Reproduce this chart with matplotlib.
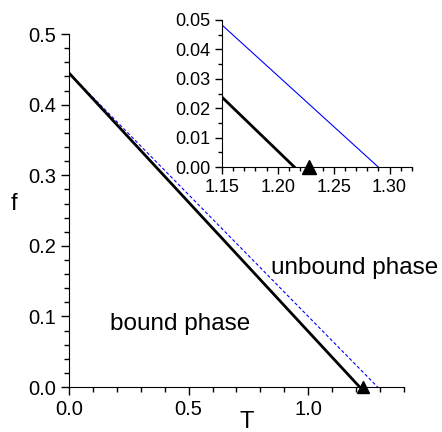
import matplotlib
matplotlib.use('Agg')
import matplotlib.pyplot as plt
from matplotlib.ticker import MultipleLocator

plt.rcParams['font.family'] = ['Liberation Sans', 'DejaVu Sans']

# phase boundary (exact) and approximate boundary
T_exact = [0.0, 1.215]
f_exact = [0.445, 0.0]
T_approx = [0.0, 1.29]
f_approx = [0.445, 0.0]
# critical point marker
T_c = [1.228]
f_c = [0.0]

fig = plt.figure(figsize=(4.42, 4.32), dpi=100)
ax = fig.add_axes([0.156, 0.104, 0.758, 0.817])

ax.plot(T_approx, f_approx, color='blue', lw=0.8, ls=(0, (3, 2)))
ax.plot(T_exact, f_exact, color='black', lw=2)
ax.plot(T_c, f_c, marker='^', color='black', ms=9, ls='none', clip_on=False)

ax.set_xlim(0, 1.40)
ax.set_ylim(0, 0.5)
ax.xaxis.set_major_locator(MultipleLocator(0.5))
ax.xaxis.set_minor_locator(MultipleLocator(0.1))
ax.yaxis.set_major_locator(MultipleLocator(0.1))
ax.yaxis.set_minor_locator(MultipleLocator(0.02))
ax.xaxis.set_major_formatter(plt.FormatStrFormatter('%.1f'))
ax.yaxis.set_major_formatter(plt.FormatStrFormatter('%.1f'))
for s in ['top', 'right']:
    ax.spines[s].set_visible(False)
ax.tick_params(which='both', direction='out', labelsize=14.5, width=1)
ax.tick_params(which='major', length=6)
ax.tick_params(which='minor', length=3.5)
ax.set_xlabel('T', fontsize=17)
ax.xaxis.set_label_coords(0.53, -0.068, transform=ax.transAxes)
ax.xaxis.label.set_va('top')
ax.set_ylabel('f', fontsize=17, rotation=0, va='center', ha='center')
ax.yaxis.set_label_coords(-0.165, 0.52)

ax.text(0.465, 0.09, 'bound phase', fontsize=17.5, ha='center', va='center')
ax.text(1.195, 0.169, 'unbound phase', fontsize=17.5, ha='center', va='center')

# inset zoom near the critical point
axi = fig.add_axes([0.502, 0.613, 0.430, 0.341])
axi.plot(T_approx, f_approx, color='blue', lw=0.8)
axi.plot(T_exact, f_exact, color='black', lw=2)
axi.plot(T_c, f_c, marker='^', color='black', ms=10, ls='none', clip_on=False)
axi.set_xlim(1.15, 1.32)
axi.set_ylim(0, 0.05)
axi.xaxis.set_major_locator(MultipleLocator(0.05))
axi.xaxis.set_minor_locator(MultipleLocator(0.01))
axi.yaxis.set_major_locator(MultipleLocator(0.01))
axi.yaxis.set_minor_locator(MultipleLocator(0.005))
axi.xaxis.set_major_formatter(plt.FormatStrFormatter('%.2f'))
axi.yaxis.set_major_formatter(plt.FormatStrFormatter('%.2f'))
for s in ['top', 'right']:
    axi.spines[s].set_visible(False)
axi.tick_params(which='both', direction='out', labelsize=13, width=1)
axi.tick_params(which='major', length=5)
axi.tick_params(which='minor', length=3)

fig.savefig('out.png', dpi=100)
